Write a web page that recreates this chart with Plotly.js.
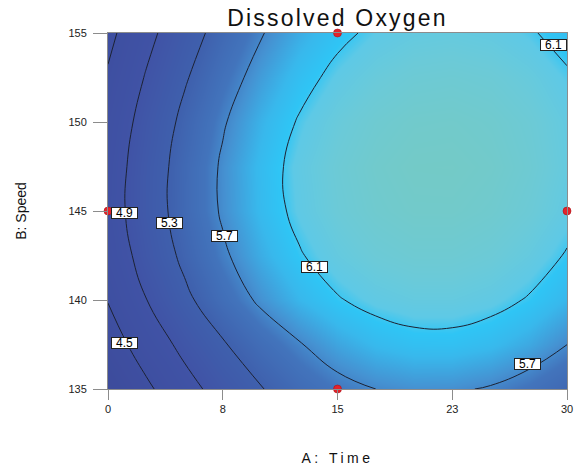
<!DOCTYPE html>
<html>
<head>
<meta charset="utf-8">
<script src="https://cdn.plot.ly/plotly-3.0.1.min.js"></script>
<style>
  html, body { margin: 0; padding: 0; background: #fff; }
  #chart { width: 577px; height: 471px; }
  .gtitle { letter-spacing: 2.2px; }
  .xtitle { letter-spacing: 3.5px; }
</style>
</head>
<body>
<div id="chart"></div>
<script>
// A: Time (grid columns) and B: Speed (grid rows)
const timeA = [0, 2.5, 5, 7.5, 10, 12.5, 15, 17.5, 20, 22.5, 25, 27.5, 30];
const speedB = [135, 137.5, 140, 142.5, 145, 147.5, 150, 152.5, 155];

// Dissolved oxygen response (rows follow speedB)
const oxygen = [
  [4.049, 4.431, 4.764, 5.049, 5.285, 5.472, 5.611, 5.700, 5.741, 5.733, 5.677, 5.572, 5.418],
  [4.314, 4.678, 4.996, 5.270, 5.498, 5.681, 5.847, 5.962, 6.021, 6.025, 5.972, 5.864, 5.701],
  [4.514, 4.894, 5.227, 5.512, 5.749, 5.939, 6.082, 6.177, 6.224, 6.224, 6.177, 6.082, 5.939],
  [4.660, 5.039, 5.371, 5.655, 5.891, 6.080, 6.222, 6.316, 6.363, 6.362, 6.315, 6.221, 6.082],
  [4.727, 5.110, 5.445, 5.733, 5.972, 6.164, 6.308, 6.405, 6.454, 6.455, 6.411, 6.322, 6.188],
  [4.706, 5.098, 5.441, 5.737, 5.983, 6.182, 6.332, 6.433, 6.486, 6.491, 6.450, 6.363, 6.229],
  [4.644, 5.035, 5.378, 5.673, 5.921, 6.121, 6.274, 6.380, 6.438, 6.448, 6.414, 6.334, 6.211],
  [4.538, 4.925, 5.266, 5.562, 5.810, 6.013, 6.169, 6.279, 6.343, 6.361, 6.332, 6.256, 6.133],
  [4.410, 4.797, 5.138, 5.434, 5.682, 5.885, 6.041, 6.151, 6.215, 6.233, 6.204, 6.129, 6.008]
];

// Contour levels
const levelStart = 4.5, levelEnd = 6.1, levelStep = 0.4;

// Design points
const designTime = [0, 15, 15, 30];
const designSpeed = [145, 155, 135, 145];

// Tick labels
const xTickVals = [0, 7.5, 15, 22.5, 30];
const xTickText = ['0', '8', '15', '23', '30'];
const yTickVals = [135, 140, 145, 150, 155];
const yTickText = ['135', '140', '145', '150', '155'];

// Contour label texts and where they sit on their lines
const labelText = ['4.9', '5.3', '5.7', '4.5', '6.1', '6.1', '5.7'];
const labelTime = [1.1, 4.0, 7.6, 1.1, 13.5, 29.1, 27.4];
const labelSpeed = [144.9, 144.3, 143.6, 137.6, 141.85, 154.35, 136.4];

const FONT = 'Arial, "Liberation Sans", Helvetica, sans-serif';

const colors = [
  [0.00, '#3d4b9b'],
  [0.20, '#3e4fa1'],
  [0.36, '#4053a6'],
  [0.52, '#3f60ad'],
  [0.64, '#4274bc'],
  [0.70, '#4592d2'],
  [0.78, '#38b8ec'],
  [0.83, '#2fc5f5'],
  [0.86, '#5ec9e6'],
  [0.92, '#6bcad8'],
  [1.00, '#74cac6']
];

const heat = {
  type: 'heatmap',
  x: timeA, y: speedB, z: oxygen,
  zsmooth: 'best',
  zmin: 4.0, zmax: 6.5,
  colorscale: colors,
  showscale: false,
  hoverinfo: 'skip'
};

const lines = {
  type: 'contour',
  x: timeA, y: speedB, z: oxygen,
  autocontour: false,
  contours: { start: levelStart, end: levelEnd, size: levelStep, coloring: 'none' },
  line: { color: '#1c2233', width: 1, smoothing: 1.3 },
  showscale: false,
  hoverinfo: 'skip'
};

const points = {
  type: 'scatter', mode: 'markers',
  x: designTime, y: designSpeed,
  marker: { color: '#e5222a', size: 8, line: { color: '#a81418', width: 0.6 } },
  cliponaxis: false,
  hoverinfo: 'skip'
};

const annotations = labelText.map((t, i) => ({
  x: labelTime[i], y: labelSpeed[i], xref: 'x', yref: 'y',
  text: t, showarrow: false,
  font: { family: FONT, size: 12, color: '#000' },
  bgcolor: '#ffffff', bordercolor: '#222', borderwidth: 1, borderpad: 0,
  width: 25, height: 10
}));

const layout = {
  width: 577, height: 471,
  margin: { l: 108, r: 10, t: 33, b: 82 },
  paper_bgcolor: '#ffffff', plot_bgcolor: '#ffffff',
  showlegend: false,
  title: {
    text: 'Dissolved Oxygen',
    font: { family: FONT, size: 23, color: '#111' },
    xref: 'paper', x: 0.5, xanchor: 'center',
    yref: 'container', y: 1 - 18 / 471, yanchor: 'middle'
  },
  xaxis: {
    range: [0, 30], tickvals: xTickVals, ticktext: xTickText,
    ticks: 'outside', ticklen: 10, tickcolor: '#8c8c8c', tickwidth: 1,
    showline: true, linecolor: '#8c8c8c', linewidth: 1, mirror: true,
    showgrid: false, zeroline: false,
    tickfont: { family: FONT, size: 11, color: '#222' },
    title: { text: 'A: Time', font: { family: FONT, size: 14, color: '#111' }, standoff: 38 }
  },
  yaxis: {
    range: [135, 155], tickvals: yTickVals, ticktext: yTickText,
    ticks: 'outside', ticklen: 14, tickcolor: '#8c8c8c', tickwidth: 1,
    ticklabelstandoff: 4,
    showline: true, linecolor: '#8c8c8c', linewidth: 1, mirror: true,
    showgrid: false, zeroline: false,
    tickfont: { family: FONT, size: 11, color: '#222' },
    title: { text: 'B: Speed', font: { family: FONT, size: 14, color: '#111' }, standoff: 38 }
  },
  annotations: annotations
};

Plotly.newPlot('chart', [heat, lines, points], layout, { displayModeBar: false, staticPlot: true });
</script>
</body>
</html>
